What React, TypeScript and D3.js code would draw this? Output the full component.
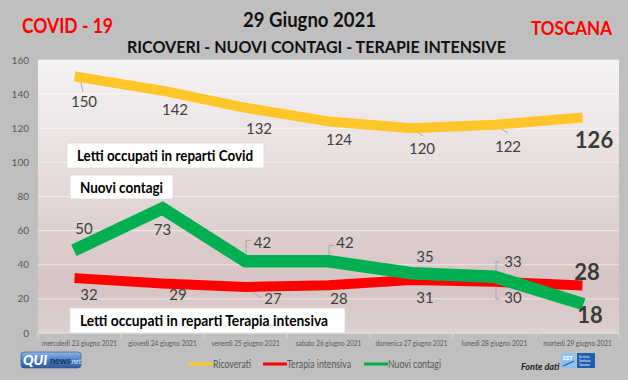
import React from "react";
import * as d3 from "d3";

const categories = [
  "mercoledì 23 giugno 2021",
  "giovedì 24 giugno 2021",
  "venerdì 25 giugno 2021",
  "sabato 26 giugno 2021",
  "domenica 27 giugno 2021",
  "lunedì 28 giugno 2021",
  "martedì 29 giugno 2021",
];
const ricoverati = [150, 142, 132, 124, 120, 122, 126];
const terapia = [32, 29, 27, 28, 31, 30, 28];
const contagi = [50, 73, 42, 42, 35, 33, 18];
const yTicks = [0, 20, 40, 60, 80, 100, 120, 140, 160];

// label offsets (px) relative to each point: [dx, dy]
const ricLabelOff = [[4.5, 30], [12.5, 24], [13.5, 26], [10.5, 24], [10.5, 26], [13.5, 27], [16.5, 30]];
const terLabelOff = [[9.5, 22], [15.5, 16.5], [27.5, 17], [10.5, 19], [13.5, 23], [18.5, 21], [9.5, -5]];
const conLabelOff = [[4.5, -14], [0, 27], [17, -13], [16.5, -13], [13.5, -11], [18.5, -10], [12.5, 21]];

const W = 628;
const H = 380;
const plot = { left: 38, right: 619, top: 60, bottom: 333 };
const FONT = "Lato, 'Open Sans', sans-serif";

export default function App() {
  const x = d3
    .scaleBand<string>()
    .domain(categories)
    .range([plot.left, plot.right]);
  const xc = (i: number) => (x(categories[i]) as number) + x.bandwidth() / 2;
  const y = d3.scaleLinear().domain([0, 160]).range([plot.bottom, plot.top]);

  const line = d3
    .line<number>()
    .x((_, i) => xc(i))
    .y((d) => y(d));

  const labelEls = (vals: number[], offs: number[][], key: string) =>
    vals.map((v, i) => {
      const last = i === vals.length - 1;
      return (
        <text
          key={key + i}
          x={xc(i) + offs[i][0]}
          y={y(v) + offs[i][1]}
          textAnchor="middle"
          fontFamily={FONT}
          fontSize={last ? 22 : 15}
          fontWeight={last ? 700 : 400}
          fill={last ? "#3a3a3a" : "#404040"}
        >
          {v}
        </text>
      );
    });

  const lc = "#a0a0a0";
  const P = (arr: number[], i: number) => [xc(i), y(arr[i])];
  const leaders: string[] = [];
  {
    const [x0, y0] = P(ricoverati, 0);
    leaders.push(`M${x0 + 0.5},${y0 + 1}L${x0 + 3.5},${y0 + 15}`);
    const [x1, y1] = P(ricoverati, 1);
    leaders.push(`M${x1 + 0.5},${y1 + 0.3}L${x1 + 12.5},${y1 + 6.3}`);
    const [x2, y2] = P(ricoverati, 2);
    leaders.push(`M${x2 - 0.5},${y2 + 0.2}L${x2 + 14.5},${y2 + 7.2}`);
    const [x3, y3] = P(ricoverati, 3);
    leaders.push(`M${x3 - 0.5},${y3 + 0.6}L${x3 + 9.5},${y3 + 5.6}`);
    const [x4, y4] = P(ricoverati, 4);
    leaders.push(`M${x4 + 0.5},${y4}L${x4 + 11.5},${y4 + 7.7}`);
    const [x5, y5] = P(ricoverati, 5);
    leaders.push(`M${x5 + 0.5},${y5 + 0.2}L${x5 + 13.5},${y5 + 8.2}`);
    const [g0x, g0y] = P(contagi, 0);
    leaders.push(`M${g0x + 0.5},${g0y - 5.7}L${g0x + 3.5},${g0y}`);
    const [g1x, g1y] = P(contagi, 1);
    leaders.push(`M${g1x},${g1y - 3}L${g1x},${g1y + 5}`);
    const [g2x, g2y] = P(contagi, 2);
    leaders.push(`M${g2x + 5.5},${g2y - 21}H${g2x + 0.5}V${g2y}`);
    const [g3x, g3y] = P(contagi, 3);
    leaders.push(`M${g3x + 5.5},${g3y - 16}H${g3x + 0.5}V${g3y}`);
    const [g4x, g4y] = P(contagi, 4);
    leaders.push(`M${g4x + 1.5},${g4y - 0.3}L${g4x + 13.5},${g4y - 5.3}`);
    const [g5x, g5y] = P(contagi, 5);
    const [r5x, r5y] = P(terapia, 5);
    leaders.push(`M${g5x + 5.5},${g5y - 14.7}H${g5x + 1.5}V${r5y + 17.2}H${r5x + 5.5}`);
    const [r2x, r2y] = P(terapia, 2);
    leaders.push(`M${r2x - 0.5},${r2y}L${r2x + 16.5},${r2y + 11.1}`);
    const [r4x, r4y] = P(terapia, 4);
    leaders.push(`M${r4x + 0.5},${r4y - 0.1}L${r4x + 13.5},${r4y + 4.9}`);
  }

  const boxes = [
    { x: 67, y: 143, w: 197, h: 25, text: "Letti occupati in reparti Covid", tl: 176, by: 161 },
    { x: 70, y: 175, w: 103, h: 24, text: "Nuovi contagi", tl: 83, by: 193 },
    { x: 70, y: 308, w: 275, h: 25, text: "Letti occupati in reparti Terapia intensiva", tl: 248, by: 326 },
  ];

  const legend = [
    { label: "Ricoverati", color: "#ffc629", sx: 189, tx: 213, tl: 38 },
    { label: "Terapia intensiva", color: "#ff0000", sx: 263, tx: 287, tl: 64 },
    { label: "Nuovi contagi", color: "#00b050", sx: 364, tx: 388, tl: 53 },
  ];

  return (
    <svg
      width={W}
      height={H}
      style={{ position: "absolute", left: 0, top: 0 }}
      xmlns="http://www.w3.org/2000/svg"
    >
      <defs>
        <linearGradient id="bg" x1="0" y1="0" x2="0" y2="1">
          <stop offset="0" stopColor="#f5f3f3" />
          <stop offset="0.45" stopColor="#e6dada" />
          <stop offset="0.82" stopColor="#d6c3c3" />
          <stop offset="1" stopColor="#ddd0d0" />
        </linearGradient>
        <linearGradient id="qui" x1="0" y1="0" x2="0" y2="1">
          <stop offset="0" stopColor="#8fb6e6" />
          <stop offset="0.5" stopColor="#4b7fc4" />
          <stop offset="1" stopColor="#2f5e9f" />
        </linearGradient>
      </defs>
      <rect x={0} y={0} width={W} height={H} fill="#bfbfbf" />

      {/* Titles */}
      <text x={22} y={33} fontFamily={FONT} fontWeight={700} fontSize={21} fill="#ff0000" textLength={91} lengthAdjust="spacingAndGlyphs">
        COVID - 19
      </text>
      <text x={243} y={27} fontFamily={FONT} fontWeight={700} fontSize={20} fill="#111" textLength={133} lengthAdjust="spacingAndGlyphs">
        29 Giugno 2021
      </text>
      <text x={127} y={53} fontFamily={FONT} fontWeight={700} fontSize={17} fill="#111" textLength={379} lengthAdjust="spacingAndGlyphs">
        RICOVERI - NUOVI CONTAGI - TERAPIE INTENSIVE
      </text>
      <text x={531} y={35} fontFamily={FONT} fontWeight={700} fontSize={19} fill="#ff0000" textLength={81} lengthAdjust="spacingAndGlyphs">
        TOSCANA
      </text>

      {/* Plot area */}
      <rect x={plot.left} y={plot.top} width={plot.right - plot.left} height={plot.bottom - plot.top} fill="url(#bg)" />
      {yTicks.map((t) => (
        <line key={"g" + t} x1={plot.left} x2={plot.right} y1={y(t)} y2={y(t)} stroke="#ffffff" strokeOpacity={0.55} strokeWidth={1} />
      ))}
      {yTicks.map((t) => (
        <text key={"yt" + t} x={29} y={y(t) + 3.5} textAnchor="end" fontFamily={FONT} fontSize={10} fill="#595959">
          {t}
        </text>
      ))}
      <line x1={plot.left} x2={plot.right} y1={plot.bottom} y2={plot.bottom} stroke="#d9d9d9" strokeWidth={1} />
      {categories.map((c, i) => (
        <line key={"xt" + i} x1={x(c) as number} x2={x(c) as number} y1={plot.bottom} y2={plot.bottom + 5} stroke="#d9d9d9" />
      ))}
      <line x1={plot.right} x2={plot.right} y1={plot.bottom} y2={plot.bottom + 5} stroke="#d9d9d9" />
      {categories.map((c, i) => (
        <text
          key={"xl" + i}
          x={xc(i)}
          y={plot.bottom + 12.5}
          textAnchor="middle"
          fontFamily={FONT}
          fontSize={8}
          fill="#595959"
          textLength={c.length * 3.12}
          lengthAdjust="spacingAndGlyphs"
        >
          {c}
        </text>
      ))}

      {/* Text boxes */}
      {boxes.map((b, i) => (
        <g key={"b" + i}>
          <rect x={b.x} y={b.y} width={b.w} height={b.h} fill="#ffffff" stroke="#d9d9d9" strokeWidth={0.75} />
          <text x={b.x + 10} y={b.by} fontFamily={FONT} fontWeight={700} fontSize={15} fill="#000" textLength={b.tl} lengthAdjust="spacingAndGlyphs">
            {b.text}
          </text>
        </g>
      ))}

      {/* Leader lines */}
      {leaders.map((d, i) => (
        <path key={"ld" + i} d={d} fill="none" stroke={lc} strokeWidth={0.9} />
      ))}

      {/* Series */}
      <path d={line(ricoverati) as string} fill="none" stroke="#ffc629" strokeWidth={10} strokeLinecap="square" strokeLinejoin="round" />
      <path d={line(terapia) as string} fill="none" stroke="#ff0000" strokeWidth={10} strokeLinecap="square" strokeLinejoin="round" />
      <path d={line(contagi) as string} fill="none" stroke="#00b050" strokeWidth={12.5} strokeLinecap="square" strokeLinejoin="miter" />

      {/* Data labels */}
      {labelEls(ricoverati, ricLabelOff, "r")}
      {labelEls(terapia, terLabelOff, "t")}
      {labelEls(contagi, conLabelOff, "c")}

      {/* Legend */}
      {legend.map((l) => (
        <g key={l.label}>
          <line x1={l.sx} x2={l.sx + 24} y1={364} y2={364} stroke={l.color} strokeWidth={3} />
          <text x={l.tx} y={368} fontFamily={FONT} fontSize={11} fill="#595959" textLength={l.tl} lengthAdjust="spacingAndGlyphs">
            {l.label}
          </text>
        </g>
      ))}

      {/* QUI news logo */}
      <rect x={21} y={352} width={60} height={16} rx={3} fill="url(#qui)" stroke="#2a528c" strokeWidth={0.6} />
      <text x={23} y={365} fontFamily={FONT} fontWeight={900} fontStyle="italic" fontSize={14} fill="#ffffff">QUI</text>
      <text x={50} y={364} fontFamily={FONT} fontWeight={700} fontSize={9} fill="#1d2f4f">news</text>
      <text x={70} y={364} fontFamily={FONT} fontStyle="italic" fontSize={7} fill="#dce8f7">.net</text>

      {/* Fonte dati */}
      <text x={521} y={370} fontFamily={FONT} fontStyle="italic" fontWeight={700} fontSize={9} fill="#222">Fonte dati</text>
      <rect x={561} y={353} width={15} height={15} fill="#8fc1ea" />
      <text x={562.5} y={360} fontFamily={FONT} fontWeight={700} fontSize={6} fill="#ffffff">SST</text>
      <path d="M563,366 L574,361" stroke="#2a5aa8" strokeWidth={1.2} />
      <rect x={577} y={353} width={18} height={15} fill="#1d5eb0" />
      <text x={579} y={358} fontFamily={FONT} fontSize={3} fill="#ffffff">Servizio</text>
      <text x={579} y={362} fontFamily={FONT} fontSize={3} fill="#ffffff">Sanitario</text>
      <text x={579} y={366} fontFamily={FONT} fontSize={3} fill="#ffffff">Toscana</text>
    </svg>
  );
}
